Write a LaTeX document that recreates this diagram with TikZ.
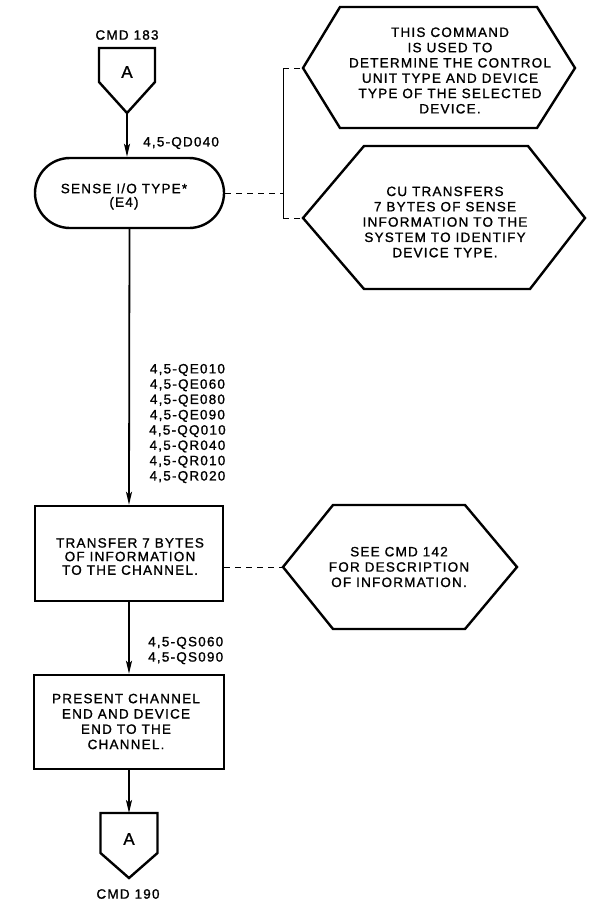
\documentclass[tikz,border=0pt]{standalone}
\usepackage{fontspec}
\setmainfont{Liberation Sans}[LetterSpace=9,FakeBold=1.2]
\usetikzlibrary{arrows.meta,shapes.misc}

\begin{document}
\begin{tikzpicture}[x=1pt,y=-1pt,
  txt/.style={font=\fontsize{13.5}{15.3}\selectfont, align=center, inner sep=0pt},
  txttight/.style={font=\fontsize{13.5}{13.6}\selectfont, align=center, inner sep=0pt},
  letter/.style={font=\fontsize{17}{17}\selectfont, inner sep=0pt},
  shapeline/.style={line width=2.4pt, line join=miter},
  boxnode/.style={draw, shapeline, rectangle, inner sep=0pt},
  flow/.style={line width=1.8pt, -{Stealth[length=13pt,width=6pt,inset=3pt]}},
  note/.style={line width=0.9pt, dash pattern=on 6pt off 5pt},
  bracketline/.style={line width=0.9pt}
]
\useasboundingbox (0,0) rectangle (589,902);

% ---- entry connector A (from CMD 183)
\coordinate (a1tip) at (127,113);
\draw[shapeline] (99,48) -- (155,48) -- (155,82) -- (a1tip) -- (99,82) -- cycle;
\node[letter] (a1) at (127,72) {A};
\node[txt] (cmd183) at (127,35) {CMD 183};

% ---- sense I/O type terminal
\node[draw, shapeline, rounded rectangle, minimum width=189pt, minimum height=70pt, inner sep=0pt] (sense) at (129.5,193) {};
\node[txttight] (senseText) at (124,196.5) {SENSE I/O TYPE*\\(E4)};

\draw[flow] (a1tip) -- (a1tip |- sense.north);
\node[txt, anchor=west] (qd) at (143,143) {4,5-QD040};

% ---- comment hexagons with bracket
\coordinate (h1w) at (303,68);
\draw[shapeline] (h1w) -- (340,7) -- (537,7) -- (575,68) -- (537,128) -- (340,128) -- cycle;
\node[txt] (h1text) at (450,70.5) {THIS COMMAND\\IS USED TO\\DETERMINE THE CONTROL\\UNIT TYPE AND DEVICE\\TYPE OF THE SELECTED\\DEVICE.};

\coordinate (h2w) at (303,218);
\draw[shapeline] (h2w) -- (364,146) -- (528,146) -- (585,218) -- (530,289) -- (364,289) -- cycle;
\node[txt] (h2text) at (445,222) {CU TRANSFERS\\7 BYTES OF SENSE\\INFORMATION TO THE\\SYSTEM TO IDENTIFY\\DEVICE TYPE.};

\coordinate (brTop) at (283,68);
\coordinate (brMid) at (283,193);
\coordinate (brBot) at (283,218);
\draw[bracketline] (brTop) -- (brBot);
\draw[note] (brTop) -- (h1w);
\draw[note] (brBot) -- (h2w);
\draw[note] (sense.east) -- (brMid);

% ---- transfer box
\node[boxnode, minimum width=188pt, minimum height=95pt] (box1) at (129,553.5) {};
\node[txttight] (box1text) at (130,556.5) {TRANSFER 7 BYTES\\OF INFORMATION\\TO THE CHANNEL.};

\draw[flow] (sense.south) -- (box1.north);
\node[txt, anchor=west] (qe) at (149,423.5) {4,5-QE010\\4,5-QE060\\4,5-QE080\\4,5-QE090\\4,5-QQ010\\4,5-QR040\\4,5-QR010\\4,5-QR020};

% ---- comment hexagon for the transfer box
\coordinate (h3w) at (283,567);
\draw[shapeline] (h3w) -- (333,505) -- (465,505) -- (517,567) -- (465,629) -- (333,629) -- cycle;
\node[txt] (h3text) at (399,567) {SEE CMD 142\\FOR DESCRIPTION\\OF INFORMATION.};
\draw[note] (box1.east |- h3w) -- (h3w);

% ---- ending status box
\node[boxnode, minimum width=190pt, minimum height=94pt] (box2) at (129,722) {};
\node[txt] (box2text) at (126,721.5) {PRESENT CHANNEL\\END AND DEVICE\\END TO THE\\CHANNEL.};

\draw[flow] (box1.south) -- (box2.north);
\node[txt, anchor=west] (qs) at (148,650.5) {4,5-QS060\\4,5-QS090};

% ---- exit connector A (to CMD 190)
\coordinate (a2top) at (129,813);
\draw[shapeline] (100.5,813) -- (157.5,813) -- (157.5,853) -- (129,878) -- (100.5,853) -- cycle;
\node[letter] (a2) at (129,839) {A};
\node[txt] (cmd190) at (128,894) {CMD 190};

\draw[flow] (box2.south) -- (a2top);
\end{tikzpicture}
\end{document}
